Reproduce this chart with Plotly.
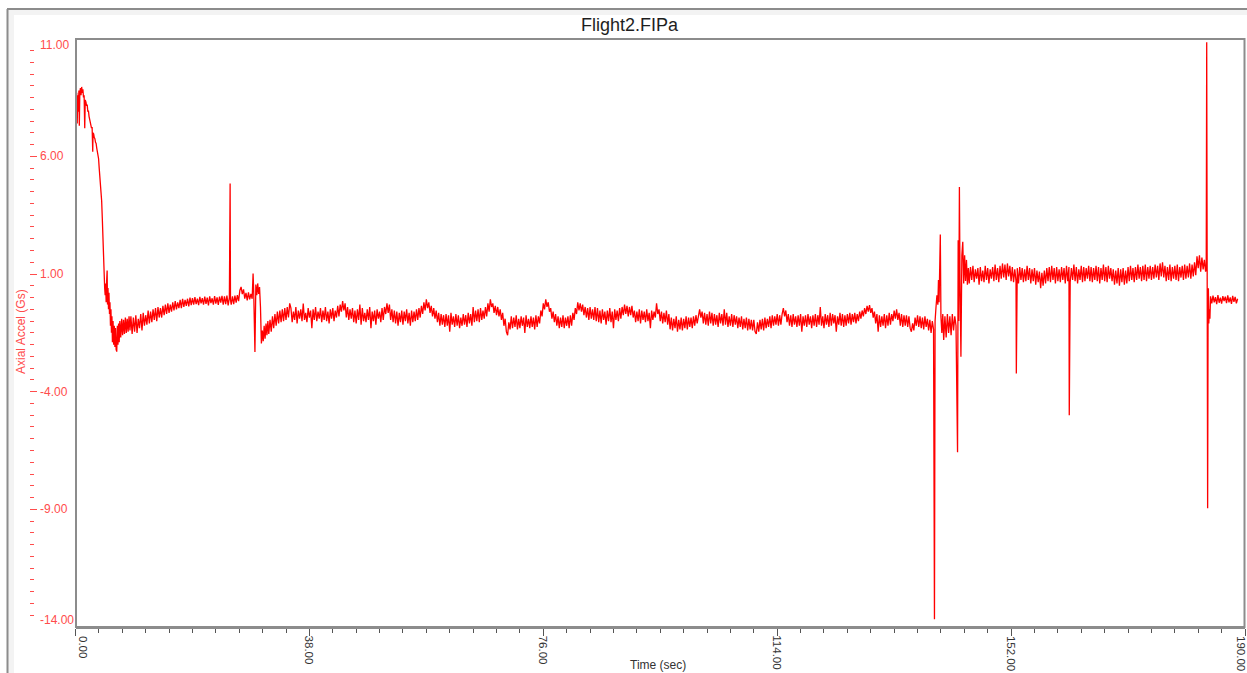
import plotly.graph_objects as go

# ---------------- data ----------------
# boost phase, 0 - 8.85 s
boost_t = [0.00, 0.05, 0.12, 0.20, 0.28, 0.36, 0.45, 0.55, 0.62, 0.70,
           0.80, 0.90, 1.00, 1.10, 1.20, 1.30, 1.40, 1.50, 1.58, 1.70,
           1.80, 1.90, 2.00, 2.10, 2.20, 2.30, 2.40, 2.50, 2.60, 2.70,
           2.80, 2.85, 2.95, 3.05, 3.15, 3.25, 3.35, 3.45, 3.55, 3.65,
           3.75, 3.85, 3.95, 4.05, 4.15, 4.25, 4.35, 4.42, 4.50, 4.58,
           4.66, 4.74, 4.82, 4.90, 4.98, 5.06, 5.14, 5.20, 5.28, 5.36,
           5.44, 5.52, 5.60, 5.68, 5.76, 5.84, 5.92, 6.00, 6.10, 6.20,
           6.30, 6.40, 6.50, 6.60, 6.70, 6.80, 6.90, 7.00, 7.10, 7.20,
           7.35, 7.50, 7.65, 7.80, 7.95, 8.10, 8.25, 8.40, 8.55, 8.70,
           8.85]
boost_g = [0.85, 9.30, 7.50, 8.70, 7.40, 8.60, 7.90, 8.80, 7.30, 8.70,
           8.90, 8.60, 8.95, 8.70, 8.85, 8.50, 8.60, 7.20, 8.40, 8.30,
           8.15, 8.20, 7.90, 7.95, 7.70, 7.60, 7.45, 7.40, 7.20, 7.25,
           6.20, 7.00, 6.95, 6.80, 6.75, 6.60, 6.55, 6.35, 6.20, 6.00,
           5.90, 5.50, 5.20, 4.95, 4.50, 4.10, 3.40, 3.00, 2.10, 1.60,
           1.00, 0.40, 0.10, 0.60, -0.20, 0.70, 1.15, -0.30, 0.40, -0.50,
           0.20, -0.70, -0.20, -1.20, -0.50, -1.50, -0.80, -1.90, -1.00, -2.00,
           -1.20, -2.10, -1.30, -2.20, -2.30, -1.20, -2.00, -1.10, -1.90, -1.00,
           -1.70, -0.90, -1.60, -0.95, -1.55, -0.85, -1.50, -0.90, -1.45, -0.80,
           -1.40]

# coast phase, 9.0 - 24.8 s
coast_t = [9.0, 9.2, 9.4, 9.6, 9.8, 10.0, 10.2, 10.4, 10.6, 10.8, 11.0, 11.2, 11.4, 11.6, 11.8, 12.0, 12.2, 12.4, 12.6, 12.8, 13.0, 13.2, 13.4, 13.6, 13.8,
           14.0, 14.2, 14.4, 14.6, 14.8, 15.0, 15.2, 15.4, 15.6, 15.8, 16.0, 16.2, 16.4, 16.6, 16.8, 17.0, 17.2, 17.4, 17.6, 17.8, 18.0, 18.2, 18.4, 18.6, 18.8,
           19.0, 19.2, 19.4, 19.6, 19.8, 20.0, 20.2, 20.4, 20.6, 20.8, 21.0, 21.2, 21.4, 21.6, 21.8, 22.0, 22.2, 22.4, 22.6, 22.8, 23.0, 23.2, 23.4, 23.6, 23.8,
           24.0, 24.2, 24.4, 24.6, 24.8]
coast_g = [-0.80, -1.55, -0.85, -1.45, -0.75, -1.50, -0.90, -1.30, -0.70, -1.40, -0.65, -1.20, -0.75, -1.15, -0.55, -1.10, -0.60, -1.05, -0.50, -0.95, -0.45, -1.00, -0.40, -0.85, -0.45,
           -0.85, -0.35, -0.75, -0.30, -0.70, -0.25, -0.65, -0.30, -0.60, -0.20, -0.55, -0.15, -0.50, -0.20, -0.45, -0.10, -0.45, -0.05, -0.40, -0.10, -0.35, -0.05, -0.38, 0.00, -0.32,
           -0.02, -0.30, 0.02, -0.28, -0.05, -0.32, 0.03, -0.25, -0.02, -0.30, 0.04, -0.27, 0.00, -0.33, 0.05, -0.24, -0.03, -0.30, 0.06, -0.26, 0.01, -0.31, 0.04, -0.22, 0.07,
           -0.30, 0.05, -0.28, 0.08, -0.33]

# separation / deployment transient, 25.0 - 34.8 s
sep_t = [25.0, 25.12, 25.18, 25.3, 25.5, 25.7, 25.9, 26.1, 26.3, 26.5,
         26.7, 26.9, 27.1, 27.3, 27.5, 27.7, 27.9, 28.1, 28.3, 28.5,
         28.7, 28.85, 28.95, 29.15, 29.3, 29.45, 29.6, 29.75, 29.9, 30.05,
         30.2, 30.35, 30.5, 30.65, 30.8, 30.95, 31.1, 31.25, 31.4, 31.6,
         31.8, 32.0, 32.2, 32.4, 32.6, 32.8, 33.0, 33.2, 33.4, 33.6,
         33.8, 34.0, 34.2, 34.4, 34.6, 34.8]
sep_g = [0.00, 4.85, -0.10, -0.30, 0.05, -0.28, 0.08, -0.22, 0.10, -0.15,
         0.30, 0.45, 0.15, 0.35, -0.05, 0.20, -0.12, 0.22, -0.08, 0.15,
         -0.05, 1.02, 0.30, -2.31, 0.55, 0.10, 0.60, 0.15, 0.45, -0.40,
         -1.95, -1.40, -1.85, -1.20, -1.75, -1.10, -1.60, -1.00, -1.55, -0.95,
         -1.45, -0.80, -1.30, -0.70, -1.20, -0.60, -1.10, -0.55, -1.05, -0.50,
         -1.00, -0.45, -0.95, -0.40, -0.85, -0.25]

# long cruise, 35.0 - 139.4 s
cruise_t = [
    35.0, 35.2, 35.4, 35.6, 35.8, 36.0, 36.2, 36.4, 36.6, 36.8, 37.0, 37.2, 37.4, 37.6, 37.8, 38.0, 38.2, 38.4, 38.6, 38.8, 39.0, 39.2, 39.4, 39.6, 39.8,
    40.0, 40.2, 40.4, 40.6, 40.8, 41.0, 41.2, 41.4, 41.6, 41.8, 42.0, 42.2, 42.4, 42.6, 42.8, 43.0, 43.2, 43.4, 43.6, 43.8, 44.0, 44.2, 44.4, 44.6, 44.8,
    45.0, 45.2, 45.4, 45.6, 45.8, 46.0, 46.2, 46.4, 46.6, 46.8, 47.0, 47.2, 47.4, 47.6, 47.8, 48.0, 48.2, 48.4, 48.6, 48.8, 49.0, 49.2, 49.4, 49.6, 49.8,
    50.0, 50.2, 50.4, 50.6, 50.8, 51.0, 51.2, 51.4, 51.6, 51.8, 52.0, 52.2, 52.4, 52.6, 52.8, 53.0, 53.2, 53.4, 53.6, 53.8, 54.0, 54.2, 54.4, 54.6, 54.8,
    55.0, 55.2, 55.4, 55.6, 55.8, 56.0, 56.2, 56.4, 56.6, 56.8, 57.0, 57.2, 57.4, 57.6, 57.8, 58.0, 58.2, 58.4, 58.6, 58.8, 59.0, 59.2, 59.4, 59.6, 59.8,
    60.0, 60.2, 60.4, 60.6, 60.8, 61.0, 61.2, 61.4, 61.6, 61.8, 62.0, 62.2, 62.4, 62.6, 62.8, 63.0, 63.2, 63.4, 63.6, 63.8, 64.0, 64.2, 64.4, 64.6, 64.8,
    65.0, 65.2, 65.4, 65.6, 65.8, 66.0, 66.2, 66.4, 66.6, 66.8, 67.0, 67.2, 67.4, 67.6, 67.8, 68.0, 68.2, 68.4, 68.6, 68.8, 69.0, 69.2, 69.4, 69.6, 69.8,
    70.0, 70.2, 70.4, 70.6, 70.8, 71.0, 71.2, 71.4, 71.6, 71.8, 72.0, 72.2, 72.4, 72.6, 72.8, 73.0, 73.2, 73.4, 73.6, 73.8, 74.0, 74.2, 74.4, 74.6, 74.8,
    75.0, 75.2, 75.4, 75.6, 75.8, 76.0, 76.2, 76.4, 76.6, 76.8, 77.0, 77.2, 77.4, 77.6, 77.8, 78.0, 78.2, 78.4, 78.6, 78.8, 79.0, 79.2, 79.4, 79.6, 79.8,
    80.0, 80.2, 80.4, 80.6, 80.8, 81.0, 81.2, 81.4, 81.6, 81.8, 82.0, 82.2, 82.4, 82.6, 82.8, 83.0, 83.2, 83.4, 83.6, 83.8, 84.0, 84.2, 84.4, 84.6, 84.8,
    85.0, 85.2, 85.4, 85.6, 85.8, 86.0, 86.2, 86.4, 86.6, 86.8, 87.0, 87.2, 87.4, 87.6, 87.8, 88.0, 88.2, 88.4, 88.6, 88.8, 89.0, 89.2, 89.4, 89.6, 89.8,
    90.0, 90.2, 90.4, 90.6, 90.8, 91.0, 91.2, 91.4, 91.6, 91.8, 92.0, 92.2, 92.4, 92.6, 92.8, 93.0, 93.2, 93.4, 93.6, 93.8, 94.0, 94.2, 94.4, 94.6, 94.8,
    95.0, 95.2, 95.4, 95.6, 95.8, 96.0, 96.2, 96.4, 96.6, 96.8, 97.0, 97.2, 97.4, 97.6, 97.8, 98.0, 98.2, 98.4, 98.6, 98.8, 99.0, 99.2, 99.4, 99.6, 99.8,
    100.0, 100.2, 100.4, 100.6, 100.8, 101.0, 101.2, 101.4, 101.6, 101.8, 102.0, 102.2, 102.4, 102.6, 102.8, 103.0, 103.2, 103.4, 103.6, 103.8, 104.0, 104.2, 104.4, 104.6, 104.8,
    105.0, 105.2, 105.4, 105.6, 105.8, 106.0, 106.2, 106.4, 106.6, 106.8, 107.0, 107.2, 107.4, 107.6, 107.8, 108.0, 108.2, 108.4, 108.6, 108.8, 109.0, 109.2, 109.4, 109.6, 109.8,
    110.0, 110.2, 110.4, 110.6, 110.8, 111.0, 111.2, 111.4, 111.6, 111.8, 112.0, 112.2, 112.4, 112.6, 112.8, 113.0, 113.2, 113.4, 113.6, 113.8, 114.0, 114.2, 114.4, 114.6, 114.8,
    115.0, 115.2, 115.4, 115.6, 115.8, 116.0, 116.2, 116.4, 116.6, 116.8, 117.0, 117.2, 117.4, 117.6, 117.8, 118.0, 118.2, 118.4, 118.6, 118.8, 119.0, 119.2, 119.4, 119.6, 119.8,
    120.0, 120.2, 120.4, 120.6, 120.8, 121.0, 121.2, 121.4, 121.6, 121.8, 122.0, 122.2, 122.4, 122.6, 122.8, 123.0, 123.2, 123.4, 123.6, 123.8, 124.0, 124.2, 124.4, 124.6, 124.8,
    125.0, 125.2, 125.4, 125.6, 125.8, 126.0, 126.2, 126.4, 126.6, 126.8, 127.0, 127.2, 127.4, 127.6, 127.8, 128.0, 128.2, 128.4, 128.6, 128.8, 129.0, 129.2, 129.4, 129.6, 129.8,
    130.0, 130.2, 130.4, 130.6, 130.8, 131.0, 131.2, 131.4, 131.6, 131.8, 132.0, 132.2, 132.4, 132.6, 132.8, 133.0, 133.2, 133.4, 133.6, 133.8, 134.0, 134.2, 134.4, 134.6, 134.8,
    135.0, 135.2, 135.4, 135.6, 135.8, 136.0, 136.2, 136.4, 136.6, 136.8, 137.0, 137.2, 137.4, 137.6, 137.8, 138.0, 138.2, 138.4, 138.6, 138.8, 139.0, 139.2, 139.4]
cruise_g = [
    -0.45, -1.05, -0.60, -0.95, -0.40, -1.10, -0.55, -0.90, -0.50, -1.00, -0.25, -0.95, -0.65, -1.05, -0.45, -0.85, -0.55, -1.30, -0.50, -0.95, -0.40, -1.00, -0.60, -0.90, -0.45,
    -1.05, -0.55, -0.95, -0.40, -1.00, -0.60, -1.10, -0.50, -0.90, -0.45, -1.00, -0.55, -0.85, -0.35, -0.80, -0.30, -0.60, -0.15, -0.55, -0.25, -0.85, -0.40, -0.95, -0.50, -0.90,
    -0.45, -1.05, -0.55, -1.10, -0.50, -0.95, -0.30, -1.15, -0.45, -1.00, -0.65, -1.05, -0.50, -0.95, -0.40, -1.30, -0.60, -1.00, -0.55, -1.15, -0.50, -0.90, -0.60, -1.05, -0.45,
    -0.95, -0.40, -0.70, -0.25, -0.65, -0.30, -0.95, -0.50, -1.05, -0.55, -1.10, -0.60, -1.20, -0.65, -1.05, -0.55, -1.15, -0.60, -1.00, -0.50, -1.10, -0.65, -1.20, -0.55, -1.05,
    -0.60, -1.00, -0.50, -0.95, -0.45, -0.85, -0.35, -0.70, -0.20, -0.55, -0.08, -0.45, -0.20, -0.65, -0.35, -0.80, -0.45, -0.90, -0.55, -1.05, -0.65, -1.20, -0.70, -1.15, -0.75,
    -1.25, -0.70, -1.20, -0.75, -1.45, -0.65, -1.15, -0.80, -1.25, -0.70, -1.20, -0.75, -1.30, -0.85, -1.20, -0.70, -1.15, -0.75, -1.25, -0.65, -1.10, -0.70, -1.20, -0.40, -1.05,
    -0.55, -1.00, -0.50, -1.05, -0.45, -0.95, -0.55, -0.90, -0.40, -0.80, -0.25, -0.60, -0.08, -0.40, -0.25, -0.65, -0.35, -0.75, -0.40, -0.80, -0.50, -0.95, -0.65, -1.20, -0.90,
    -1.45, -1.60, -1.05, -1.35, -0.80, -1.30, -0.85, -1.25, -0.75, -1.35, -0.90, -1.30, -0.80, -1.20, -0.85, -1.50, -0.75, -1.25, -0.90, -1.30, -0.80, -1.25, -0.85, -1.35, -0.75,
    -1.25, -0.80, -1.10, -0.55, -0.80, -0.25, -0.50, -0.08, -0.40, -0.20, -0.60, -0.45, -0.90, -0.60, -1.05, -0.70, -1.20, -0.80, -1.30, -0.85, -1.25, -0.75, -1.30, -0.85, -1.20,
    -0.80, -1.30, -0.75, -1.20, -0.65, -0.95, -0.45, -0.70, -0.20, -0.55, -0.25, -0.60, -0.30, -0.75, -0.40, -0.85, -0.45, -0.95, -0.40, -0.90, -0.50, -0.95, -0.40, -1.00, -0.45,
    -1.05, -0.55, -1.10, -0.50, -0.95, -0.60, -1.15, -0.55, -1.00, -0.45, -1.05, -0.60, -1.30, -0.50, -0.95, -0.55, -1.00, -0.45, -0.90, -0.40, -0.75, -0.30, -0.70, -0.35, -0.80,
    -0.40, -0.75, -0.35, -0.85, -0.55, -1.05, -0.60, -1.00, -0.50, -1.10, -0.55, -0.95, -0.60, -1.05, -0.50, -1.00, -0.65, -1.30, -0.55, -0.95, -0.60, -0.85, -0.25, -0.70, -0.50,
    -1.00, -0.60, -1.10, -0.65, -1.05, -0.55, -1.15, -0.70, -1.35, -0.85, -1.40, -0.90, -1.30, -0.80, -1.45, -0.95, -1.35, -0.85, -1.40, -0.90, -1.30, -0.80, -1.35, -0.85, -1.25,
    -0.85, -1.30, -0.80, -1.20, -0.75, -1.10, -0.70, -0.50, -0.85, -0.60, -1.10, -0.65, -1.15, -0.70, -1.20, -0.60, -1.10, -0.65, -1.20, -0.70, -1.15, -0.75, -1.25, -0.65, -1.10,
    -0.70, -1.20, -0.50, -1.15, -0.65, -1.25, -0.80, -1.20, -0.70, -1.25, -0.75, -1.15, -0.80, -1.30, -0.85, -1.25, -0.80, -1.35, -0.90, -1.30, -0.85, -1.40, -0.90, -1.35, -0.95,
    -1.40, -0.95, -1.45, -1.55, -1.05, -1.45, -0.95, -1.35, -0.90, -1.40, -0.85, -1.30, -0.90, -1.25, -0.80, -1.30, -0.75, -1.20, -0.80, -1.15, -0.70, -1.20, -0.75, -1.15, -0.70,
    -0.45, -0.80, -0.55, -1.05, -0.70, -1.20, -0.75, -1.25, -0.70, -1.15, -0.80, -1.25, -0.75, -1.20, -0.70, -1.45, -0.80, -1.20, -0.75, -1.25, -0.70, -1.15, -0.80, -1.30, -0.75,
    -1.20, -0.70, -1.25, -0.75, -1.15, -0.40, -1.20, -0.80, -1.30, -0.70, -1.15, -0.75, -1.25, -0.65, -1.20, -0.70, -1.10, -0.75, -1.45, -0.80, -1.15, -0.65, -1.20, -0.70, -1.25,
    -0.75, -1.20, -0.70, -1.10, -0.65, -1.15, -0.70, -1.05, -0.65, -1.10, -0.70, -1.00, -0.60, -0.90, -0.55, -0.80, -0.45, -0.70, -0.35, -0.60, -0.32, -0.65, -0.45, -0.85, -0.60,
    -1.10, -0.70, -1.45, -0.75, -1.25, -0.80, -1.20, -0.70, -1.30, -0.75, -1.20, -0.65, -1.15, -0.70, -1.00, -0.55, -0.90, -0.50, -0.95, -0.65, -1.20, -0.70, -1.25, -0.75, -1.20,
    -0.75, -1.25, -0.80, -1.30, -1.45, -1.10, -1.40, -0.85, -1.20, -0.75, -1.25, -0.80, -1.30, -0.85, -1.35, -0.80, -1.25, -0.90, -1.40, -0.95, -1.50, -1.00, -1.35]

# apogee / ejection transient, 139.55 - 145.05 s
apogee_t = [139.55, 139.65, 139.80, 139.95, 140.10, 140.20, 140.30, 140.50, 140.60, 140.75,
            140.90, 141.05, 141.25, 141.45, 141.65, 141.85, 142.05, 142.25, 142.45, 142.65,
            142.85, 143.05, 143.30, 143.40, 143.50, 143.60, 143.70, 143.85, 144.00, 144.15,
            144.30, 144.45, 144.60, 144.75, 144.90, 145.05]
apogee_g = [-13.67, -1.00, -0.40, 0.10, -0.30, 0.74, -0.20, 2.68, -0.80, -1.50,
            -0.70, -1.80, -0.80, -1.70, -0.70, -1.50, -0.80, -1.60, -0.70, -1.40,
            -0.80, -1.20, -6.57, 2.44, -1.00, 4.70, 0.80, -2.52, 1.80, 2.37,
            0.60, 1.80, 0.70, 1.60, 0.55, 1.25]

# descent under parachute, 145.2 - 183.6 s
descent_t = [
    145.2, 145.4, 145.6, 145.8, 146.0, 146.2, 146.4, 146.6, 146.8, 147.0, 147.2, 147.4, 147.6, 147.8, 148.0, 148.2, 148.4, 148.6, 148.8, 149.0, 149.2, 149.4, 149.6, 149.8, 150.0,
    150.2, 150.4, 150.6, 150.8, 151.0, 151.2, 151.4, 151.6, 151.8, 152.0, 152.2, 152.4, 152.6, 152.8, 153.0, 153.2, 153.4, 153.6, 153.8, 154.0, 154.2, 154.4, 154.6, 154.8, 155.0,
    155.2, 155.4, 155.6, 155.8, 156.0, 156.2, 156.4, 156.6, 156.8, 157.0, 157.2, 157.4, 157.6, 157.8, 158.0, 158.2, 158.4, 158.6, 158.8, 159.0, 159.2, 159.4, 159.6, 159.8, 160.0,
    160.2, 160.4, 160.6, 160.8, 161.0, 161.2, 161.4, 161.6, 161.8, 162.0, 162.2, 162.4, 162.6, 162.8, 163.0, 163.2, 163.4, 163.6, 163.8, 164.0, 164.2, 164.4, 164.6, 164.8, 165.0,
    165.2, 165.4, 165.6, 165.8, 166.0, 166.2, 166.4, 166.6, 166.8, 167.0, 167.2, 167.4, 167.6, 167.8, 168.0, 168.2, 168.4, 168.6, 168.8, 169.0, 169.2, 169.4, 169.6, 169.8, 170.0,
    170.2, 170.4, 170.6, 170.8, 171.0, 171.2, 171.4, 171.6, 171.8, 172.0, 172.2, 172.4, 172.6, 172.8, 173.0, 173.2, 173.4, 173.6, 173.8, 174.0, 174.2, 174.4, 174.6, 174.8, 175.0,
    175.2, 175.4, 175.6, 175.8, 176.0, 176.2, 176.4, 176.6, 176.8, 177.0, 177.2, 177.4, 177.6, 177.8, 178.0, 178.2, 178.4, 178.6, 178.8, 179.0, 179.2, 179.4, 179.6, 179.8, 180.0,
    180.2, 180.4, 180.6, 180.8, 181.0, 181.2, 181.4, 181.6, 181.8, 182.0, 182.2, 182.4, 182.6, 182.8, 183.0, 183.2, 183.4, 183.6]
descent_g = [
    0.60, 1.30, 0.75, 1.35, 0.65, 1.20, 0.80, 1.25, 0.55, 1.30, 0.70, 1.15, 0.65, 1.35, 0.75, 1.25, 0.60, 1.20, 0.80, 1.30, 0.70, 1.40, 0.75, 1.25, 0.65,
    1.35, 0.80, 1.45, 0.85, 1.40, 0.75, 1.45, 0.90, 1.35, 0.70, 1.30, 0.65, 1.20, 0.70, 1.25, 0.60, 1.30, 0.75, 1.25, 0.65, 1.20, 0.70, 1.35, 0.75, 1.25,
    0.60, 1.20, 0.70, 1.25, 0.55, 1.15, 0.65, 1.10, 0.40, 1.05, 0.50, 1.15, 0.60, 1.25, 0.70, 1.30, 0.65, 1.35, 0.75, 1.25, 0.60, 1.30, 0.70, 1.20, 0.65,
    1.30, 0.75, 1.25, 0.60, 1.35, 0.70, 1.30, 0.65, 1.25, 0.75, 1.40, 0.70, 1.30, 0.60, 1.20, 0.75, 1.35, 0.65, 1.30, 0.70, 1.25, 0.80, 1.35, 0.70, 1.30,
    0.65, 1.25, 0.75, 1.35, 0.70, 1.30, 0.60, 1.25, 0.75, 1.40, 0.70, 1.30, 0.65, 1.35, 0.80, 1.25, 0.70, 1.20, 0.55, 1.15, 0.60, 1.25, 0.50, 1.20, 0.65,
    1.25, 0.55, 1.15, 0.60, 1.30, 0.70, 1.35, 0.75, 1.25, 0.65, 1.30, 0.75, 1.40, 0.80, 1.30, 0.70, 1.35, 0.75, 1.40, 0.70, 1.30, 0.80, 1.35, 0.75, 1.30,
    0.80, 1.40, 0.85, 1.35, 0.75, 1.45, 0.90, 1.50, 0.85, 1.35, 0.70, 1.30, 0.75, 1.40, 0.70, 1.30, 0.80, 1.35, 0.75, 1.40, 0.70, 1.30, 0.85, 1.35, 0.75,
    1.40, 0.80, 1.35, 0.85, 1.45, 0.80, 1.40, 0.90, 1.50, 0.95, 1.75, 1.25, 1.80, 1.10, 1.70, 1.20, 1.60, 1.10]

# isolated single-sample spikes during descent
spike_t = [152.85, 161.45]
spike_g = [-3.23, -5.00]

# landing impact and rest, 183.70 - 188.8 s
landing_t = [183.70, 183.78, 183.83, 183.88, 183.93, 184.00, 184.05, 184.12, 184.20, 184.30,
             184.4, 184.6, 184.8, 185.0, 185.2, 185.4, 185.6, 185.8, 186.0, 186.2, 186.4, 186.6,
             186.8, 187.0, 187.2, 187.4, 187.6, 187.8, 188.0, 188.2, 188.4, 188.6, 188.8]
landing_g = [1.20, 10.85, 1.00, 8.90, -8.95, -0.80, 0.40, -1.10, -0.50, -0.90,
             0.05, -0.25, 0.08, -0.20, 0.02, -0.28, 0.10, -0.22, 0.00, -0.26, 0.06, -0.15,
             0.04, -0.24, 0.09, -0.20, 0.01, -0.27, 0.07, -0.18, 0.03, -0.25, -0.05]

segments = [(boost_t, boost_g), (coast_t, coast_g), (sep_t, sep_g), (cruise_t, cruise_g),
            (apogee_t, apogee_g), (descent_t, descent_g), (spike_t, spike_g),
            (landing_t, landing_g)]
pairs = []
for seg_t, seg_g in segments:
    assert len(seg_t) == len(seg_g), (seg_t[0], len(seg_t), len(seg_g))
    pairs.extend(zip(seg_t, seg_g))
pairs.sort(key=lambda p: p[0])
time_sec = [p[0] for p in pairs]
axial_g = [p[1] for p in pairs]

x_tick_vals = [0, 38, 76, 114, 152, 190]
y_tick_vals = [11, 6, 1, -4, -9, -14]

chart_title = "Flight2.FIPa"
x_title = "Time (sec)"
y_title = "Axial Accel (Gs)"

# ---------------- layout helpers ----------------
W, H = 1247, 673
def fx(px):
    return px / W
def fy(py):
    return 1 - py / H

FONT = "Liberation Sans, Arial, Helvetica, sans-serif"
RED_TXT = "#ff4c4c"
GRAY_LINE = "#8c8c8c"

fig = go.Figure()
fig.add_trace(go.Scatter(
    x=time_sec, y=axial_g, mode="lines",
    line=dict(color="#ff0000", width=1.3),
    hoverinfo="skip", showlegend=False,
))

fig.update_layout(
    width=W, height=H,
    margin=dict(l=0, r=0, t=0, b=0, pad=0, autoexpand=False),
    paper_bgcolor="white", plot_bgcolor="white",
    font=dict(family=FONT, size=12, color="#333"),
    showlegend=False,
    xaxis=dict(
        domain=[fx(75.5), fx(1245)], range=[0, 190], anchor="y",
        automargin=False,
        tickmode="array", tickvals=x_tick_vals, showticklabels=False,
        ticks="outside", ticklen=7, tickwidth=1, tickcolor="#555",
        showline=True, linecolor=GRAY_LINE, linewidth=2,
        showgrid=False, zeroline=False,
        minor=dict(tick0=0, dtick=3.8, ticks="outside", ticklen=4,
                   tickwidth=1, tickcolor="#555", showgrid=False),
    ),
    yaxis=dict(
        domain=[fy(627), fy(38.7)], range=[-14, 11],
        anchor="free", position=fx(29.3), side="left",
        automargin=False,
        tickmode="array", tickvals=y_tick_vals, showticklabels=False,
        ticks="inside", ticklen=7, tickwidth=1, tickcolor=RED_TXT,
        showline=False, showgrid=False, zeroline=False,
        minor=dict(tick0=-14, dtick=0.5, ticks="inside", ticklen=4,
                   tickwidth=1, tickcolor=RED_TXT, showgrid=False),
    ),
)

shapes = [
    dict(type="rect", xref="paper", yref="paper", x0=fx(8), x1=fx(1250), y0=fy(680), y1=fy(10),
         fillcolor="#f3f3f3", line=dict(width=0), layer="below"),
    dict(type="rect", xref="paper", yref="paper", x0=fx(14), x1=fx(1250), y0=fy(680), y1=fy(15),
         fillcolor="white", line=dict(width=0), layer="below"),
    dict(type="line", xref="paper", yref="paper", x0=fx(7.5), x1=fx(7.5), y0=fy(680), y1=fy(9),
         line=dict(color=GRAY_LINE, width=2)),
    dict(type="line", xref="paper", yref="paper", x0=fx(7), x1=fx(1250), y0=fy(9), y1=fy(9),
         line=dict(color=GRAY_LINE, width=2)),
    dict(type="rect", xref="paper", yref="paper", x0=fx(76), x1=fx(1244.5), y0=fy(627), y1=fy(39),
         line=dict(color=GRAY_LINE, width=2), fillcolor="rgba(0,0,0,0)", layer="above"),
]
fig.update_layout(shapes=shapes)

# tick labels (end labels nudged inward, as in the reference)
for v in y_tick_vals:
    shift = -6 if v == y_tick_vals[0] else (7 if v == y_tick_vals[-1] else 0)
    fig.add_annotation(x=fx(38.0), xref="paper", y=v, yref="y", yshift=shift,
                       text=f"{v:.2f}", showarrow=False, xanchor="left", yanchor="middle",
                       font=dict(family=FONT, size=12, color=RED_TXT))
for v in x_tick_vals:
    shift = 8 if v == x_tick_vals[0] else (-4 if v == x_tick_vals[-1] else 0)
    fig.add_annotation(x=v, xref="x", xshift=shift, y=fy(634.5), yref="paper",
                       text=f"{v:.2f}", showarrow=False, textangle=90,
                       xanchor="center", yanchor="top", borderpad=0,
                       font=dict(family=FONT, size=11.5, color="#333"))

fig.add_annotation(x=fx(629.5), y=fy(25), xref="paper", yref="paper", text=chart_title,
                   showarrow=False, xanchor="center", yanchor="middle",
                   font=dict(family=FONT, size=18, color="#1e1e1e"))
fig.add_annotation(x=fx(20.5), y=fy(331.5), xref="paper", yref="paper", text=y_title,
                   showarrow=False, textangle=-90, xanchor="center", yanchor="middle",
                   font=dict(family=FONT, size=12, color=RED_TXT))
fig.add_annotation(x=fx(658), y=fy(665), xref="paper", yref="paper", text=x_title,
                   showarrow=False, xanchor="center", yanchor="middle",
                   font=dict(family=FONT, size=12, color="#333"))

fig.write_html("out.html")
